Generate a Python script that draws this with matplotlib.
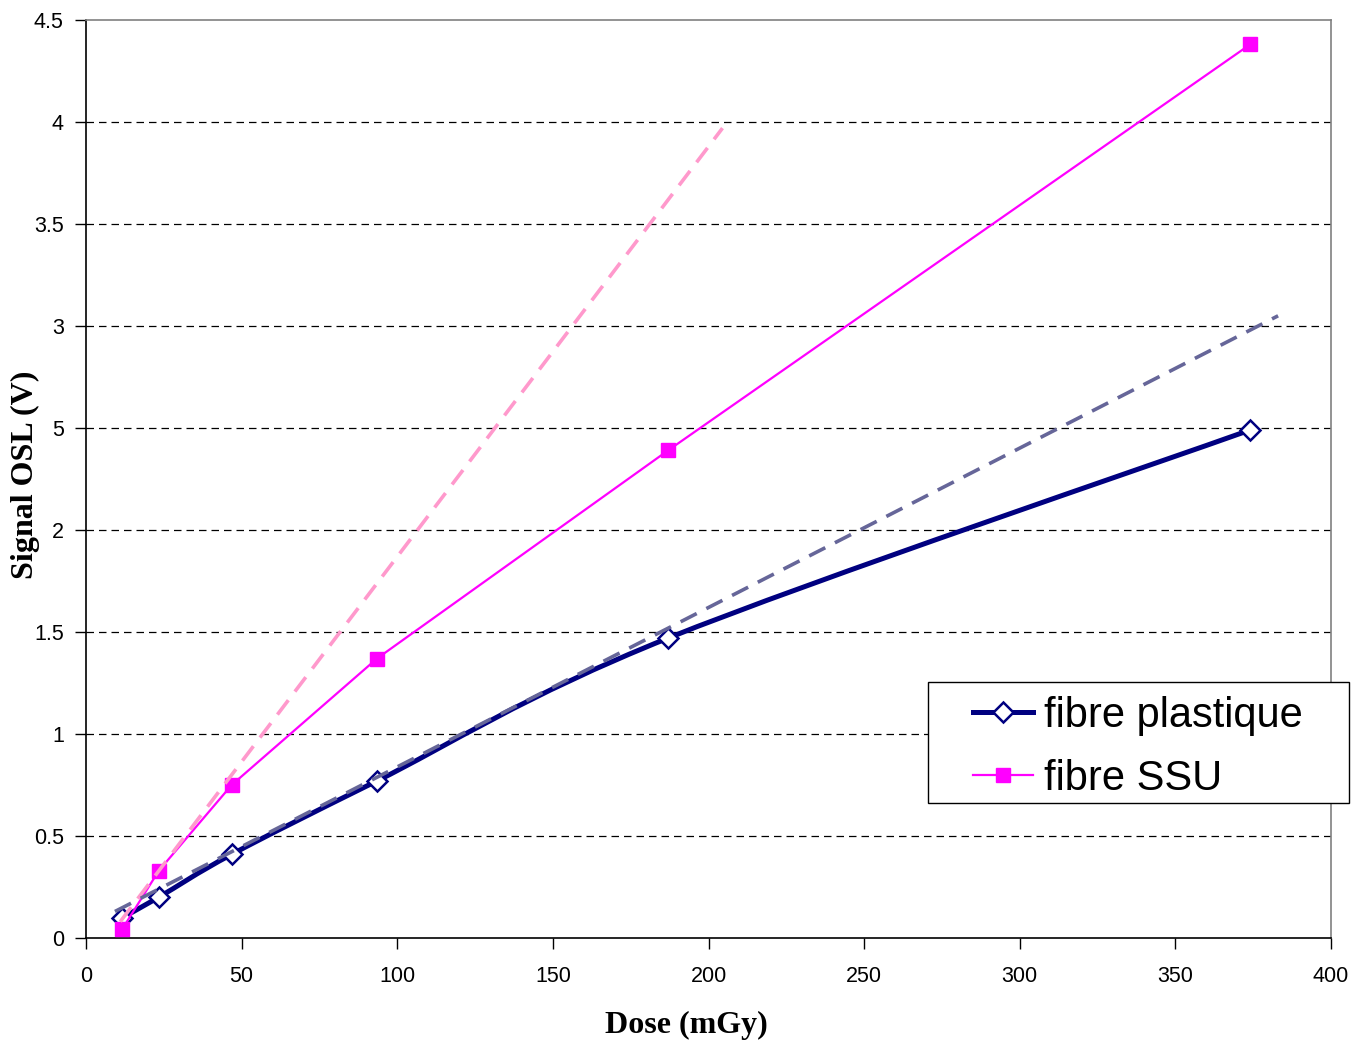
import matplotlib.pyplot as plt
import numpy as np
from matplotlib.path import Path
from matplotlib.patches import PathPatch, Rectangle
from matplotlib.lines import Line2D

dose = [11.7, 23.4, 46.8, 93.5, 187, 374]
plastique = [0.10, 0.20, 0.41, 0.77, 1.47, 2.49]
ssu = [0.045, 0.33, 0.75, 1.37, 2.39, 4.38]

# trend lines (end points)
trend_ssu_x = [11.0, 204.5]
trend_ssu_y = [0.08, 3.97]
trend_pla_x = [9.3, 383]
trend_pla_y = [0.13, 3.05]

yticks = [0, 0.5, 1, 1.5, 2, 2.5, 3, 3.5, 4, 4.5]
ytick_labels = ['0', '0.5', '1', '1.5', '2', '5', '3', '3.5', '4', '4.5']
xticks = [0, 50, 100, 150, 200, 250, 300, 350, 400]

NAVY = '#000080'
MAG = '#FF00FF'
W, H = 1364, 1041


def smooth_path(x, y):
	# excel-like smoothed line: bezier through the points
	p = np.column_stack([x, y]).astype(float)
	n = len(p)
	verts = [p[0]]
	codes = [Path.MOVETO]
	for i in range(n - 1):
		p0 = p[i - 1] if i > 0 else p[i]
		p3 = p[i + 2] if i + 2 < n else p[i + 1]
		c1 = p[i] + (p[i + 1] - p0) / 6.0
		c2 = p[i + 1] - (p3 - p[i]) / 6.0
		verts += [c1, c2, p[i + 1]]
		codes += [Path.CURVE4] * 3
	return Path(verts, codes)


fig = plt.figure(figsize=(W / 100, H / 100), dpi=100)
ax = fig.add_axes([86 / W, 1 - 938 / H, 1245 / W, 918 / H])

for y in yticks[1:-1]:
	ax.axhline(y, color='black', lw=0.9, ls=(0, (6, 4)), zorder=1)

ax.add_patch(PathPatch(smooth_path(dose, plastique), fill=False, ec=NAVY, lw=3.6,
					   capstyle='round', joinstyle='round', zorder=3))
ax.plot(dose, plastique, ls='none', marker='D', ms=10, mfc='white', mec=NAVY, mew=1.8, zorder=3)
ax.plot(dose, ssu, '-', color=MAG, lw=1.6, marker='s', ms=10, mfc=MAG, mec=MAG, zorder=3)

ax.plot(trend_ssu_x, trend_ssu_y, color='#FF99CC', lw=2.6, ls=(0, (5, 3)), zorder=4)
ax.plot(trend_pla_x, trend_pla_y, color='#666699', lw=2.6, ls=(0, (5, 3)), zorder=4)

ax.set_xlim(0, 400)
ax.set_ylim(0, 4.5)
ax.set_xticks(xticks)
ax.set_yticks(yticks)
ax.set_yticklabels(ytick_labels)
ax.tick_params(direction='out', length=8, width=1, labelsize=15.5)
ax.tick_params(axis='x', pad=12)
ax.tick_params(axis='y', pad=8)
for lab in ax.get_xticklabels() + ax.get_yticklabels():
	lab.set_fontfamily('Liberation Sans')

ax.spines['left'].set_color('black')
ax.spines['bottom'].set_color('black')
ax.spines['top'].set_color('#808080')
ax.spines['right'].set_color('#808080')
for s in ax.spines.values():
	s.set_linewidth(1.2)

ax.set_xlabel('Dose (mGy)', fontfamily='Liberation Serif', fontweight='bold', fontsize=23)
ax.set_ylabel('Signal OSL (V)', fontfamily='Liberation Serif', fontweight='bold', fontsize=23)
ax.xaxis.set_label_coords((686 - 86) / 1245, -(1025 - 938) / 918, transform=ax.transAxes)
ax.xaxis.label.set_va('center')
ax.yaxis.set_label_coords(-(86 - 25) / 1245, (938 - 475) / 918, transform=ax.transAxes)
ax.yaxis.label.set_va('center')

# legend box drawn separately to get excel-like padding
fig.patches.append(Rectangle((928 / W, 1 - 803 / H), 421 / W, 121 / H, transform=fig.transFigure,
							 fill=True, fc='white', ec='black', lw=1.0, zorder=5))
handles = [
	Line2D([], [], color=NAVY, lw=3.6, marker='D', ms=10, mfc='white', mec=NAVY, mew=1.8),
	Line2D([], [], color=MAG, lw=1.6, marker='s', ms=10, mfc=MAG, mec=MAG),
]
leg = fig.legend(handles, ['fibre plastique', 'fibre SSU'], loc='upper left',
				 bbox_to_anchor=(973 / W, 1 - 696 / H), frameon=False,
				 prop={'family': 'Liberation Sans', 'size': 30},
				 handlelength=1.44, borderpad=0, labelspacing=0.55, handletextpad=0.26,
				 borderaxespad=0)
leg.set_zorder(6)

fig.savefig('out.png', dpi=100)
